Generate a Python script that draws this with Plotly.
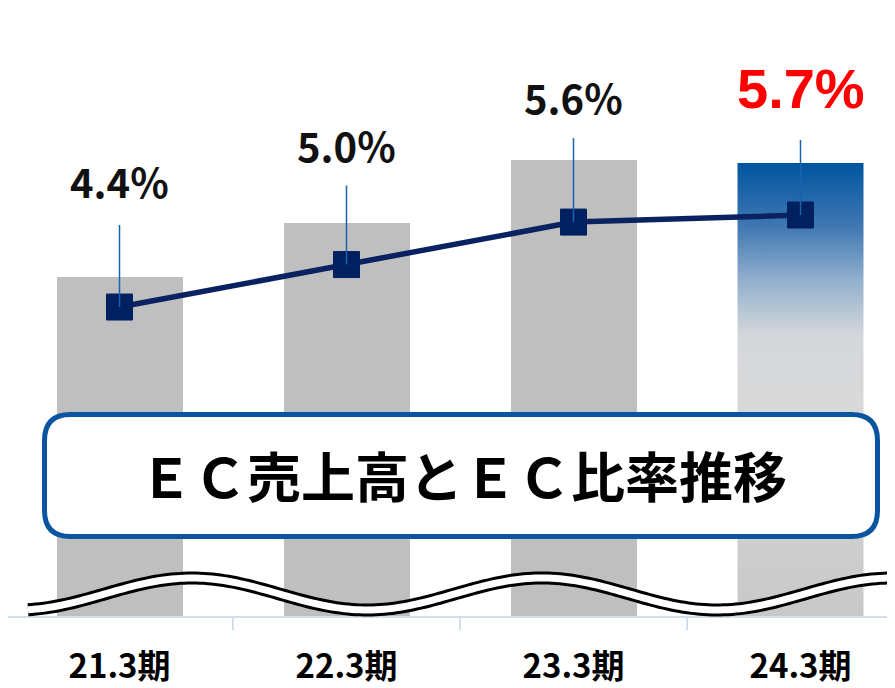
import numpy as np
import plotly.graph_objects as go

# ---- data ----
periods = ["21.3期", "22.3期", "23.3期", "24.3期"]
ec_sales_index = [339, 393, 456, 453]        # relative EC sales (bar heights, broken axis)
ec_ratio = [4.4, 5.0, 5.6, 5.7]              # EC ratio (%)
ratio_labels = ["4.4%", "5.0%", "5.6%", "5.7%"]
title_text = "ＥＣ売上高とＥＣ比率推移"

# ---- layout constants (window pixels; page body has an 8px margin) ----
OFF = 8
WIN_W, WIN_H = 895, 688
W, H = WIN_W - OFF, WIN_H - OFF
AXIS_Y = 616                      # window y of the category axis
PW = W
PH = AXIS_Y - OFF
MB = H - PH
CAT_PX = 227.0
FIRST_CAT_LEFT = 6                # window x of the left edge of the first category
BAR_W = 126 / CAT_PX
x_idx = list(range(len(periods)))
x0_range = (OFF - FIRST_CAT_LEFT) / CAT_PX - 0.5

def px(x):
    return (x - OFF) / PW

def py(y):
    return (AXIS_Y - y) / PH

fig = go.Figure()

bar_colors = ["#bfbfbf"] * (len(periods) - 1) + ["rgba(0,0,0,0)"]
fig.add_trace(go.Bar(x=x_idx, y=ec_sales_index, width=BAR_W,
                     marker=dict(color=bar_colors, line=dict(width=0)),
                     hoverinfo="skip", yaxis="y"))

# gradient bar for the latest period
i_last = len(periods) - 1
v_last = ec_sales_index[i_last]
gx = [i_last - BAR_W / 2, i_last + BAR_W / 2, i_last + BAR_W / 2, i_last - BAR_W / 2, i_last - BAR_W / 2]
gy = [0, 0, v_last, v_last, 0]
fig.add_trace(go.Scatter(
    x=gx, y=gy, mode="lines", fill="toself", line=dict(width=0),
    fillgradient=dict(type="vertical", colorscale=[
        [0.0, "#c8c8c8"], [0.45, "#d9d9d9"], [0.62, "#d4d7db"],
        [0.74, "#93b0cd"], [0.86, "#3f78b3"], [1.0, "#0055a0"]]),
    hoverinfo="skip", yaxis="y", showlegend=False))

y2_r0 = 0.036
y2_pxu = 70.8
fig.add_trace(go.Scatter(
    x=x_idx, y=ec_ratio, mode="lines+markers", yaxis="y2",
    line=dict(color="#0a2262", width=5.5),
    marker=dict(symbol="square", size=26, color="#002060",
                line=dict(color="#002060", width=1)),
    hoverinfo="skip", showlegend=False))

# leader lines and labels
leader_px = [82, 79, 84, 75]
label_px = [126, 120, 125, 126]
shapes = []
annotations = []
for i, v in enumerate(ec_ratio):
    shapes.append(dict(type="line", xref="x", yref="y2", x0=i, x1=i,
                       ysizemode="pixel", yanchor=v, y0=0, y1=leader_px[i],
                       line=dict(color="#1763b0", width=1.5), layer="above"))
    last = i == len(ec_ratio) - 1
    annotations.append(dict(
        x=i, y=v, xref="x", yref="y2", text=ratio_labels[i], showarrow=False,
        yshift=label_px[i], xanchor="center", yanchor="middle",
        font=dict(family="Liberation Sans" if last else "Noto Sans CJK JP",
                  size=56 if last else 40,
                  color="#ff0000" if last else "#111111",
                  weight=700 if last else 600)))

# wavy axis-break symbol
wx = np.arange(28, 905, 4.0)
wy = 594 - 16 * np.cos(2 * np.pi * (wx - 192) / 350)
wpath = "M " + " L ".join(f"{px(a):.5f},{py(b):.5f}" for a, b in zip(wx, wy))
shapes.append(dict(type="path", xref="paper", yref="paper", path=wpath,
                   line=dict(color="#000000", width=13), layer="above"))
shapes.append(dict(type="path", xref="paper", yref="paper", path=wpath,
                   line=dict(color="#ffffff", width=7), layer="above"))

# rounded title box
bx0, bx1, by0, by1, r = 44.5, 877.5, 414.5, 536.5, 26
box = (f"M {px(bx0 + r)},{py(by0)} L {px(bx1 - r)},{py(by0)} "
       f"Q {px(bx1)},{py(by0)} {px(bx1)},{py(by0 + r)} "
       f"L {px(bx1)},{py(by1 - r)} Q {px(bx1)},{py(by1)} {px(bx1 - r)},{py(by1)} "
       f"L {px(bx0 + r)},{py(by1)} Q {px(bx0)},{py(by1)} {px(bx0)},{py(by1 - r)} "
       f"L {px(bx0)},{py(by0 + r)} Q {px(bx0)},{py(by0)} {px(bx0 + r)},{py(by0)} Z")
shapes.append(dict(type="path", xref="paper", yref="paper", path=box,
                   fillcolor="#ffffff", line=dict(color="#0b55a0", width=5),
                   layer="above"))
annotations.append(dict(x=px(463), y=py(474), xref="paper", yref="paper",
                        xanchor="center", yanchor="middle",
                        text=title_text, showarrow=False,
                        font=dict(family="Noto Sans CJK JP", size=54,
                                  color="#000000", weight=700)))

fig.update_layout(
    width=W, height=H, margin=dict(l=0, r=0, t=0, b=MB, pad=0, autoexpand=False),
    paper_bgcolor="white", plot_bgcolor="white", showlegend=False,
    bargap=0,
    xaxis=dict(range=[x0_range, x0_range + PW / CAT_PX], tickvals=x_idx, ticktext=periods,
               ticks="", showgrid=False, zeroline=False, automargin=False,
               showline=True, linecolor="#d3deec", linewidth=2,
               tickfont=dict(family="Noto Sans CJK JP", size=33, color="#000000", weight=700),
               ticklabelstandoff=20,
               minor=dict(tick0=0.5, dtick=1, ticks="outside", ticklen=12,
                          tickwidth=2, tickcolor="#d3deec", showgrid=False)),
    yaxis=dict(range=[0, PH], visible=False, showgrid=False, automargin=False),
    yaxis2=dict(range=[y2_r0, y2_r0 + PH / y2_pxu], overlaying="y", visible=False,
                showgrid=False, automargin=False),
    shapes=shapes, annotations=annotations,
)

fig.write_html("out.html")
